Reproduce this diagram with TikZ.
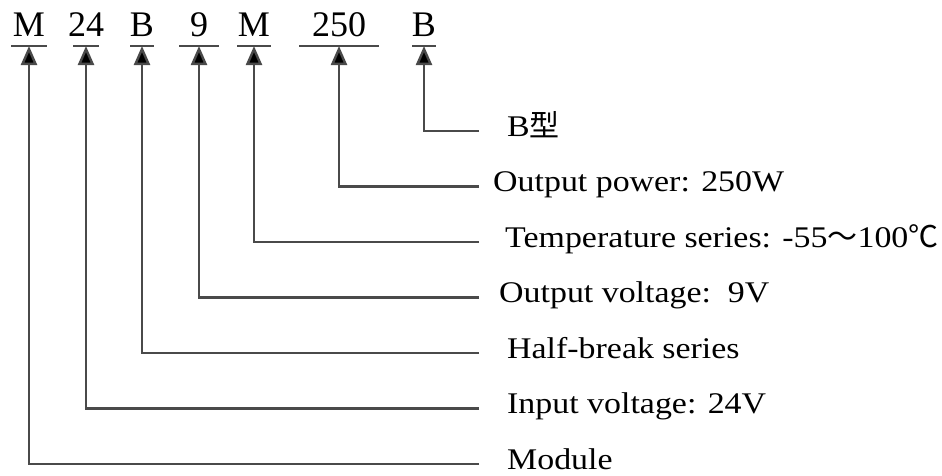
\documentclass[tikz,border=0pt]{standalone}
\usepackage{fontspec}
\setmainfont{Liberation Serif}
\newfontfamily\lblfont{Liberation Serif}[FakeStretch=1.13]
\newfontfamily\cjk{Noto Sans CJK SC}
\usetikzlibrary{arrows.meta}
\definecolor{linecol}{HTML}{4A4A4A}
\tikzset{
	codebox/.style={inner sep=0pt,anchor=south,text height=27pt,text depth=9pt,
		font=\fontsize{36}{40}\selectfont},
	labelbox/.style={inner sep=0pt,anchor=base west,font=\lblfont\fontsize{30}{34}\selectfont},
	uline/.style={draw=linecol,line width=2.4pt},
	conn/.style={draw=linecol,line width=2.4pt,-{Triangle[length=19pt,width=16pt,fill=black]}}
}

\begin{document}
\begin{tikzpicture}[x=1pt,y=-1pt]
\useasboundingbox (0,0) rectangle (942,475);
% code letters with their underlines
\foreach \code/\cx/\uw [count=\i] in {
	M/29/36,
	24/86/26,
	B/142/24,
	9/199/40,
	M/254/34,
	250/339/80,
	B/424/24%
	}{
	\node[codebox] (c\i) at (\cx,46) {\code};
	\draw[uline] (c\i.south) ++(-\uw/2,0) -- ++(\uw,0);
	}
% labels and connectors
\foreach \txt/\lx/\tgt [count=\i] in {
	B{\cjk 型}/507/7,
	Output power: 250W/493/6,
	Temperature series: -55{\cjk ～}100{\cjk ℃}/505/5,
	Output voltage:\ \ 9V/499/4,
	Half-break series/507/3,
	Input voltage: 24V/507/2,
	Module/507/1%
	}{
	\pgfmathsetmacro\ly{131+55.5*(\i-1)}
	\coordinate (e\i) at (479,\ly);
	\node[labelbox] (l\i) at (\lx,\ly+5) {\txt};
	\draw[conn] (e\i) -| (c\tgt.south);
	}
\end{tikzpicture}
\end{document}
